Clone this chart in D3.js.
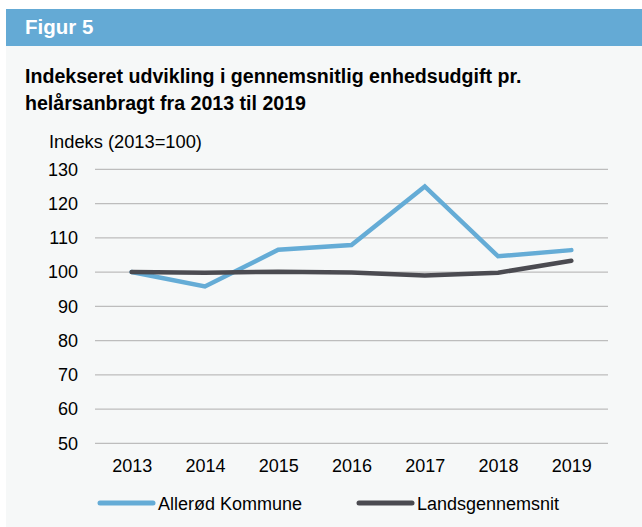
<!DOCTYPE html>
<html lang="da">
<head>
<meta charset="utf-8">
<title>Figur 5</title>
<script src="https://cdn.jsdelivr.net/npm/d3@7"></script>
<style>
  body { margin: 0; background: #fff; }
  svg text { font-family: "Liberation Sans", Arial, sans-serif; fill: #000; }
</style>
</head>
<body>
<script>
// Data
var years = ["2013", "2014", "2015", "2016", "2017", "2018", "2019"];
var allerod = [100, 95.8, 106.5, 107.9, 125.0, 104.6, 106.4];
var landsgennemsnit = [100, 99.8, 100.1, 99.9, 99.0, 99.8, 103.3];
var yTicks = [50, 60, 70, 80, 90, 100, 110, 120, 130];
var seriesNames = ["Allerød Kommune", "Landsgennemsnit"];
var seriesColors = ["#65acd6", "#4b4b51"];

var w = 642, h = 527;

var svg = d3.select("body").append("svg")
  .attr("width", w)
  .attr("height", h);

// panel background
svg.append("rect")
  .attr("x", 6).attr("y", 45)
  .attr("width", w - 6).attr("height", h - 45)
  .attr("fill", "#f6f8f8");

// header bar
svg.append("rect")
  .attr("x", 6).attr("y", 9)
  .attr("width", w - 6).attr("height", 37)
  .attr("fill", "#64aad5");

svg.append("text")
  .attr("x", 25).attr("y", 34)
  .attr("font-size", "20.5px")
  .attr("font-weight", "bold")
  .style("fill", "#fff")
  .text("Figur 5");

// title
var title = svg.append("text")
  .attr("font-size", "19.6px")
  .attr("font-weight", "bold");
title.append("tspan").attr("x", 25).attr("y", 83)
  .text("Indekseret udvikling i gennemsnitlig enhedsudgift pr.");
title.append("tspan").attr("x", 25).attr("y", 110)
  .text("helårsanbragt fra 2013 til 2019");

// scales
var xScale = d3.scalePoint()
  .domain(years)
  .range([95, 608])
  .padding(0.5);

var yScale = d3.scaleLinear()
  .domain([50, 130])
  .range([443.3, 169.3]);

// y axis label
svg.append("text")
  .attr("x", 49).attr("y", 148)
  .attr("font-size", "18.3px")
  .text("Indeks (2013=100)");

// gridlines
svg.selectAll("line.grid")
  .data(yTicks)
  .enter()
  .append("line")
  .attr("class", "grid")
  .attr("x1", 95).attr("x2", 608)
  .attr("y1", function(d) { return yScale(d); })
  .attr("y2", function(d) { return yScale(d); })
  .attr("stroke", "#bdbdbd")
  .attr("stroke-width", 1.2);

// y tick labels
var yAxis = d3.axisLeft(yScale)
  .tickValues(yTicks)
  .tickSize(0)
  .tickPadding(0);
var gy = svg.append("g")
  .attr("transform", "translate(78,0)")
  .call(yAxis);
gy.select(".domain").remove();
gy.selectAll("text")
  .attr("font-size", "18px")
  .attr("font-family", "Liberation Sans, Arial, sans-serif")
  .style("fill", "#000");

// x tick labels
var xAxis = d3.axisBottom(xScale).tickSize(0).tickPadding(0);
var gx = svg.append("g")
  .attr("transform", "translate(0,459)")
  .call(xAxis);
gx.select(".domain").remove();
gx.selectAll("text")
  .attr("font-size", "18px")
  .attr("font-family", "Liberation Sans, Arial, sans-serif")
  .style("fill", "#000");

// lines
var line = d3.line()
  .x(function(d, i) { return xScale(years[i]); })
  .y(function(d) { return yScale(d); });

[allerod, landsgennemsnit].forEach(function(s, i) {
  svg.append("path")
    .datum(s)
    .attr("d", line)
    .attr("fill", "none")
    .attr("stroke", seriesColors[i])
    .attr("stroke-width", 4.5)
    .attr("stroke-linecap", "round")
    .attr("stroke-linejoin", "miter");
});

// legend
var legendX = [100, 359];
var lg = svg.selectAll("g.legend")
  .data(seriesNames)
  .enter()
  .append("g")
  .attr("class", "legend")
  .attr("transform", function(d, i) { return "translate(" + legendX[i] + ",503)"; });

lg.append("line")
  .attr("x1", 0).attr("x2", 53)
  .attr("y1", 0).attr("y2", 0)
  .attr("stroke", function(d, i) { return seriesColors[i]; })
  .attr("stroke-width", 5)
  .attr("stroke-linecap", "round");

lg.append("text")
  .attr("x", 58).attr("y", 6.5)
  .attr("font-size", "18px")
  .text(function(d) { return d; });
</script>
</body>
</html>
